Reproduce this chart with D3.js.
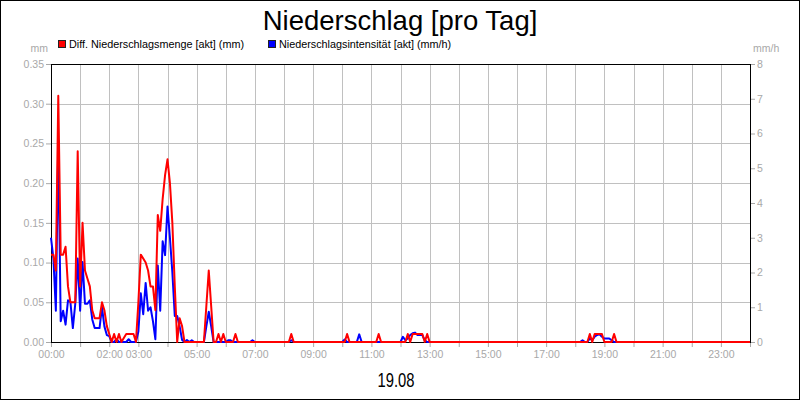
<!DOCTYPE html>
<html>
<head>
<meta charset="utf-8">
<script src="https://cdn.jsdelivr.net/npm/d3@7"></script>
<style>
    body { margin: 0; background: #fff; }
    svg { display: block; font-family: "Liberation Sans", Arial, sans-serif; }
</style>
</head>
<body>
<svg id="chart" width="800" height="400"></svg>
<script>
// ------------------------------------------------------------------
// Data
// ------------------------------------------------------------------
var chartTitle = 'Niederschlag [pro Tag]';
var dayLabel = '19.08';
var seriesNames = ['Diff. Niederschlagsmenge [akt] (mm)', 'Niederschlagsintensität [akt] (mm/h)'];
var leftTicks = [0, 0.05, 0.10, 0.15, 0.20, 0.25, 0.30, 0.35];
var rightTicks = [0, 1, 2, 3, 4, 5, 6, 7, 8];
var hourLabels = ['00:00', '02:00', '03:00', '05:00', '07:00', '09:00', '11:00', '13:00',
                  '15:00', '17:00', '19:00', '21:00', '23:00'];

// Diff. Niederschlagsmenge (mm), left axis
var mengeTimes = ['00:00','00:05','00:10','00:15','00:20','00:25','00:30','00:35','00:40','00:45',
                  '00:50','00:55','01:00','01:05','01:10','01:15','01:20','01:25','01:30','01:35',
                  '01:40','01:45','01:50','01:55','02:00','02:05','02:10','02:15','02:20','02:25',
                  '02:35','02:40','02:45','02:50','02:55','03:00','03:05','03:10','03:15','03:20',
                  '03:25','03:30','03:35','03:40','03:45','03:50','03:55','04:00','04:05','04:10',
                  '04:15','04:20','04:25','04:30','04:35','05:15','05:20','05:25','05:30','05:35',
                  '05:40','05:45','05:50','05:55','06:00','06:15','06:20','06:25','08:10','08:15',
                  '08:20','10:05','10:10','10:15','11:10','11:15','11:20','12:10','12:15','12:20',
                  '12:25','12:30','12:35','12:40','12:45','12:50','12:55','13:00','18:25','18:30',
                  '18:35','18:40','18:45','18:50','18:55','19:00','19:15','19:20','19:25','24:00'];
var mengeValues = [0.11, 0.11, 0.09, 0.31, 0.11, 0.11, 0.12, 0.07, 0.05, 0.05,
                   0.05, 0.24, 0.07, 0.15, 0.09, 0.08, 0.07, 0.04, 0.03, 0.03,
                   0.03, 0.05, 0.04, 0.02, 0.01, 0, 0.01, 0, 0.01, 0,
                   0.01, 0.01, 0.01, 0.01, 0, 0.05, 0.11, 0.105, 0.10, 0.09,
                   0.07, 0.07, 0.04, 0.16, 0.14, 0.18, 0.21, 0.23, 0.20, 0.15,
                   0.07, 0, 0.03, 0.02, 0, 0, 0.045, 0.09, 0.045, 0,
                   0, 0.01, 0, 0.01, 0, 0, 0.01, 0, 0, 0.01,
                   0, 0, 0.01, 0, 0, 0.01, 0, 0, 0.01, 0,
                   0.01, 0.01, 0.01, 0.01, 0.01, 0, 0.01, 0, 0, 0.01,
                   0, 0.01, 0.01, 0.01, 0.01, 0, 0, 0.01, 0, 0];

// Niederschlagsintensität (mm/h), right axis
var intensTimes = ['00:00','00:05','00:10','00:15','00:20','00:25','00:30','00:35','00:40','00:45',
                   '00:50','00:55','01:00','01:05','01:10','01:15','01:20','01:25','01:30','01:35',
                   '01:40','01:45','01:50','01:55','02:00','02:05','02:10','02:15','02:20','02:35',
                   '02:40','02:45','02:55','03:00','03:05','03:10','03:15','03:20','03:25','03:30',
                   '03:35','03:40','03:45','03:50','03:55','04:00','04:05','04:10','04:15','04:20',
                   '04:25','04:30','04:35','04:40','04:45','04:50','04:55','05:15','05:20','05:25',
                   '05:30','05:35','06:00','06:05','06:10','06:15','06:50','06:55','07:00','08:10',
                   '08:15','08:20','10:00','10:05','10:10','10:30','10:35','10:40','12:00','12:05',
                   '12:10','12:15','12:20','12:25','12:30','12:35','12:40','12:45','12:50','12:55',
                   '18:10','18:15','18:20','18:25','18:30','18:35','18:40','18:45','18:50','18:55',
                   '19:00','19:05','19:10','19:15','19:20','24:00'];
var intensValues = [3.0, 2.4, 0.9, 5.8, 0.6, 0.9, 0.5, 1.2, 1.15, 0.4,
                    1.1, 2.4, 0.9, 2.3, 1.1, 1.1, 1.2, 0.65, 0.4, 0.4,
                    0.4, 1.0, 0.45, 0.2, 0.17, 0, 0, 0.08, 0, 0,
                    0.08, 0, 0, 0.3, 1.4, 0.8, 1.7, 0.9, 1.0, 0.6,
                    0.08, 2.2, 0.9, 2.9, 2.5, 3.9, 3.0, 2.0, 0.75, 0.75,
                    0.45, 0.06, 0, 0.06, 0, 0.05, 0, 0, 0.45, 0.87,
                    0.45, 0, 0, 0.05, 0.05, 0, 0, 0.05, 0, 0,
                    0.05, 0, 0, 0.07, 0, 0, 0.22, 0, 0, 0.15,
                    0.05, 0.1, 0.2, 0.25, 0.27, 0.2, 0.2, 0.2, 0.05, 0,
                    0, 0.05, 0, 0, 0.1, 0.05, 0.15, 0.2, 0.22, 0.15,
                    0.1, 0.1, 0.1, 0.05, 0, 0];

// ------------------------------------------------------------------
// Helpers
// ------------------------------------------------------------------
function ToMinutes(t) {
    var p = t.split(':');
    return (+p[0]) * 60 + (+p[1]);
}

function MakePoints(times, values) {
    var pts = [];
    for (var i = 0; i < times.length; i++) {
        pts.push({ t: ToMinutes(times[i]), v: values[i] });
    }
    return pts;
}

// ------------------------------------------------------------------
// Rendering
// ------------------------------------------------------------------
var W = 800, H = 400;
var margin = { top: 64, right: 50, bottom: 58, left: 51 };
var plotW = W - margin.left - margin.right;
var plotH = H - margin.top - margin.bottom;
var labelGray = '#a8a8a8';
var gridGray = '#c0c0c0';

var svg = d3.select('#chart');

// outer frame
svg.append('rect')
    .attr('x', 0.5).attr('y', 0.5)
    .attr('width', W - 1).attr('height', H - 1)
    .attr('fill', '#fff').attr('stroke', '#000');

var x = d3.scaleLinear().domain([0, 1440]).range([0, plotW]);
var yL = d3.scaleLinear().domain([0, 0.35]).range([plotH, 0]);
var yR = d3.scaleLinear().domain([0, 8]).range([plotH, 0]);

var g = svg.append('g')
    .attr('transform', 'translate(' + margin.left + ',' + margin.top + ')');

// grid
var hours = d3.range(0, 25).map(function(h) { return h * 60; });
g.append('g').selectAll('line.vgrid')
    .data(hours.slice(1, 24))
    .enter().append('line')
    .attr('x1', function(d) { return Math.round(x(d)) + 0.5; })
    .attr('x2', function(d) { return Math.round(x(d)) + 0.5; })
    .attr('y1', 0).attr('y2', plotH)
    .attr('stroke', gridGray).attr('stroke-width', 1);

g.append('g').selectAll('line.hgrid')
    .data(leftTicks.slice(1, leftTicks.length - 1))
    .enter().append('line')
    .attr('x1', 0).attr('x2', plotW)
    .attr('y1', function(d) { return Math.round(yL(d)) + 0.5; })
    .attr('y2', function(d) { return Math.round(yL(d)) + 0.5; })
    .attr('stroke', gridGray).attr('stroke-width', 1);

// axes
var labelSet = {};
hourLabels.forEach(function(l) { labelSet[ToMinutes(l)] = l; });

var xAxis = d3.axisBottom(x)
    .tickValues(hours)
    .tickSize(5)
    .tickPadding(4)
    .tickFormat(function(d) { return labelSet[d] || ''; });

var leftAxis = d3.axisLeft(yL)
    .tickValues(leftTicks)
    .tickSize(5)
    .tickPadding(2)
    .tickFormat(d3.format('.2f'));

var rightAxis = d3.axisRight(yR)
    .tickValues(rightTicks)
    .tickSize(5)
    .tickPadding(2)
    .tickFormat(d3.format('d'));

function StyleAxis(sel) {
    sel.select('.domain').remove();
    sel.selectAll('.tick line').attr('stroke', labelGray);
    sel.selectAll('.tick text')
        .attr('fill', labelGray)
        .style('font-family', '"Liberation Sans", Arial, sans-serif')
        .style('font-size', '10.5px');
}

g.append('g').attr('transform', 'translate(0,' + plotH + ')').call(xAxis).call(StyleAxis);
g.append('g').call(leftAxis).call(StyleAxis);
g.append('g').attr('transform', 'translate(' + plotW + ',0)').call(rightAxis).call(StyleAxis);

// plot frame
g.append('rect')
    .attr('x', 0.5).attr('y', 0.5)
    .attr('width', plotW).attr('height', plotH)
    .attr('fill', 'none').attr('stroke', '#000').attr('stroke-width', 1);

// lines
var intensLine = d3.line()
    .x(function(d) { return x(d.t); })
    .y(function(d) { return yR(d.v); });

var mengeLine = d3.line()
    .x(function(d) { return x(d.t); })
    .y(function(d) { return yL(d.v); });

g.append('path')
    .datum(MakePoints(intensTimes, intensValues))
    .attr('d', intensLine)
    .attr('fill', 'none').attr('stroke', '#0000ff').attr('stroke-width', 2)
    .attr('stroke-linejoin', 'round');

g.append('path')
    .datum(MakePoints(mengeTimes, mengeValues))
    .attr('d', mengeLine)
    .attr('fill', 'none').attr('stroke', '#ff0000').attr('stroke-width', 2)
    .attr('stroke-linejoin', 'round');

// title
svg.append('text')
    .attr('x', 400).attr('y', 30)
    .attr('text-anchor', 'middle')
    .style('font-size', '27.5px')
    .attr('fill', '#000')
    .text(chartTitle);

// legend
var legendColors = ['#ff0000', '#0000ff'];
var legendX = [58, 268];
seriesNames.forEach(function(name, i) {
    svg.append('rect')
        .attr('x', legendX[i] + 0.5).attr('y', 40.5)
        .attr('width', 7).attr('height', 7)
        .attr('fill', legendColors[i]).attr('stroke', '#222');
    svg.append('text')
        .attr('x', legendX[i] + 11).attr('y', 48)
        .style('font-size', '10.8px')
        .attr('fill', '#000')
        .text(name);
});

// axis units
svg.append('text')
    .attr('x', 48).attr('y', 52)
    .attr('text-anchor', 'end')
    .style('font-size', '10.5px')
    .attr('fill', labelGray)
    .text('mm');

svg.append('text')
    .attr('x', 753).attr('y', 52)
    .style('font-size', '10.5px')
    .attr('fill', labelGray)
    .text('mm/h');

// day label
svg.append('text')
    .attr('x', 396).attr('y', 387)
    .attr('text-anchor', 'middle')
    .attr('textLength', 37)
    .attr('lengthAdjust', 'spacingAndGlyphs')
    .style('font-size', '20px')
    .attr('fill', '#000')
    .text(dayLabel);
</script>
</body>
</html>
